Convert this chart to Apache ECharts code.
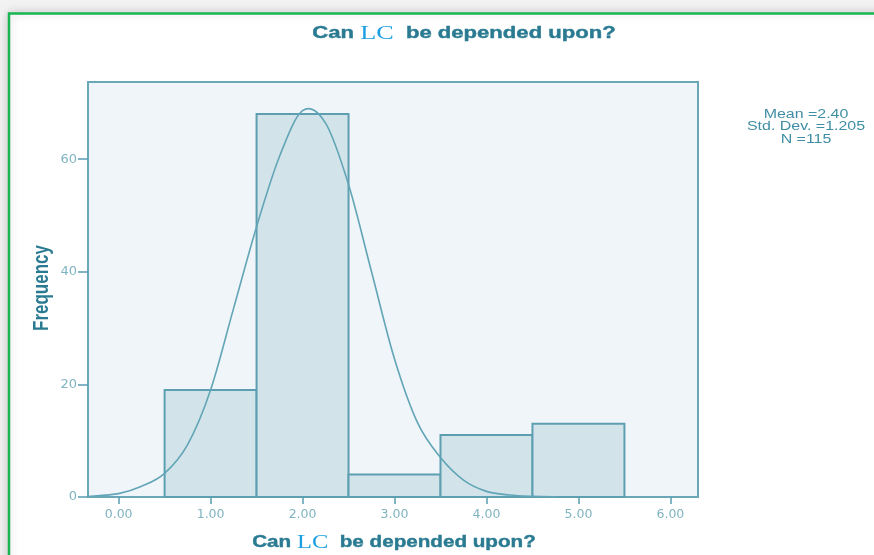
<!DOCTYPE html>
<html><head><meta charset="utf-8">
<script src="https://cdn.jsdelivr.net/npm/echarts@6/dist/echarts.min.js"></script>
<style>html,body{margin:0;padding:0;background:#f2f2f2}#c{width:874px;height:555px}</style>
</head><body><div id="c"></div>
<script>
// ---- data ----
const binCenters = [1, 2, 3, 4, 5];
const frequencies = [19, 68, 4, 11, 13];
const binWidth = 1;
const curveX = [-0.33, 0, 0.25, 0.5, 0.75, 1.0, 1.25, 1.5, 1.75, 2.0, 2.25, 2.5, 2.75, 3.0, 3.25, 3.5, 3.75, 4.0, 4.25, 4.5, 4.78];
const curveY = [0.1, 0.6, 1.9, 4.2, 9.3, 19, 33.5, 48, 60.5, 68.6, 66.4, 55.5, 40, 24.5, 13.2, 7.0, 3.0, 1.0, 0.35, 0.12, 0.04];
const xTicks = [0, 1, 2, 3, 4, 5, 6];
const yTicks = [0, 20, 40, 60];
const statsLines = ['Mean =2.40', 'Std. Dev. =1.205', 'N =115'];
const titleParts = ['Can ', 'LC', '  be depended upon?'];
const yTitle = 'Frequency';

const teal = '#5a9db0';
const tealDark = '#2a7b92';
const labelColor = '#80b4c2';

const chart = echarts.init(document.getElementById('c'), null, {renderer: 'canvas'});

const titleRich = {
  a: {fontFamily: 'Liberation Sans', fontWeight: 'bold', fontSize: 16, fill: tealDark, stroke: tealDark, lineWidth: 0.4},
  b: {fontFamily: 'Liberation Serif', fontWeight: 'normal', fontSize: 19, fill: '#1c9fe0'}
};
const titleText = '{a|' + titleParts[0] + '}{b|' + titleParts[1] + '}{a|' + titleParts[2] + '}';

// smooth curve through the read points (Catmull-Rom), drawn in pixel space via the axes
function curveRender(params, api) {
  if (params.dataIndex !== 0) return null;
  const pts = curveX.map((x, i) => api.coord([x, curveY[i]]));
  let d = 'M' + pts[0][0] + ' ' + pts[0][1];
  for (let i = 0; i < pts.length - 1; i++) {
    const p0 = pts[i - 1] || pts[i], p1 = pts[i], p2 = pts[i + 1], p3 = pts[i + 2] || pts[i + 1];
    const c1 = [p1[0] + (p2[0] - p0[0]) / 6, p1[1] + (p2[1] - p0[1]) / 6];
    const c2 = [p2[0] - (p3[0] - p1[0]) / 6, p2[1] - (p3[1] - p1[1]) / 6];
    d += ' C' + c1[0] + ' ' + c1[1] + ' ' + c2[0] + ' ' + c2[1] + ' ' + p2[0] + ' ' + p2[1];
  }
  return {type: 'path', shape: {pathData: d}, style: {fill: 'none', stroke: '#62a5b7', lineWidth: 1.6}};
}

chart.setOption({
  animation: false,
  backgroundColor: 'transparent',
  graphic: [
    {type: 'rect', z: -100, shape: {x: 9, y: 13.5, width: 900, height: 600},
     style: {fill: '#ffffff', stroke: '#19b552', lineWidth: 2.5, shadowBlur: 10, shadowColor: 'rgba(0,0,0,0.18)'}},
    {type: 'text', x: 464, y: 34, scaleX: 1.38,
     style: {text: titleText, rich: titleRich, align: 'center', verticalAlign: 'middle'}},
    {type: 'text', x: 394, y: 543, scaleX: 1.29,
     style: {text: titleText, rich: titleRich, align: 'center', verticalAlign: 'middle'}},
    {type: 'text', x: 42, y: 288, rotation: Math.PI / 2, scaleY: 1.25,
     style: {text: yTitle, fontFamily: 'Liberation Sans', fontWeight: 'bold', fontSize: 17, fill: tealDark, align: 'center', verticalAlign: 'middle'}},
    {type: 'text', x: 806, y: 127, scaleX: 1.33,
     style: {text: statsLines.join('\n'), fontFamily: 'Liberation Sans', fontSize: 12, lineHeight: 12.8, fill: '#3f8ea3', align: 'center', verticalAlign: 'middle'}}
  ],
  grid: {left: 88, top: 82, right: 176, bottom: 58, show: true, backgroundColor: '#eff5f8', borderColor: '#6aa8b8', borderWidth: 2},
  xAxis: {
    type: 'value', min: -0.333, max: 6.3,
    splitLine: {show: false},
    axisLine: {show: false, onZero: false},
    axisTick: {show: true, customValues: xTicks, length: 7, lineStyle: {color: teal, width: 1.5}},
    axisLabel: {customValues: xTicks, margin: 11, color: labelColor, fontFamily: 'DejaVu Sans', fontSize: 12.5,
      formatter: v => v.toFixed(2)}
  },
  yAxis: {
    type: 'value', min: 0, max: 73.7,
    splitLine: {show: false},
    axisLine: {show: false, onZero: false},
    axisTick: {show: true, customValues: yTicks, length: 10, lineStyle: {color: teal, width: 1.5}},
    axisLabel: {customValues: yTicks, margin: 11, color: labelColor, fontFamily: 'DejaVu Sans', fontSize: 13}
  },
  series: [
    {
      type: 'custom',
      data: binCenters.map((c, i) => [c, frequencies[i]]),
      renderItem: function (params, api) {
        const c = api.value(0), v = api.value(1);
        const p0 = api.coord([c - binWidth / 2, v]);
        const p1 = api.coord([c + binWidth / 2, 0]);
        return {type: 'rect', shape: {x: p0[0], y: p0[1], width: p1[0] - p0[0], height: p1[1] - p0[1]},
          style: {fill: '#d2e4ea', stroke: '#5d9fb1', lineWidth: 2}};
      },
      z: 2
    },
    {
      type: 'custom',
      data: curveX.map((x, i) => [x, curveY[i]]),
      renderItem: curveRender,
      z: 3
    }
  ]
});
</script></body></html>
